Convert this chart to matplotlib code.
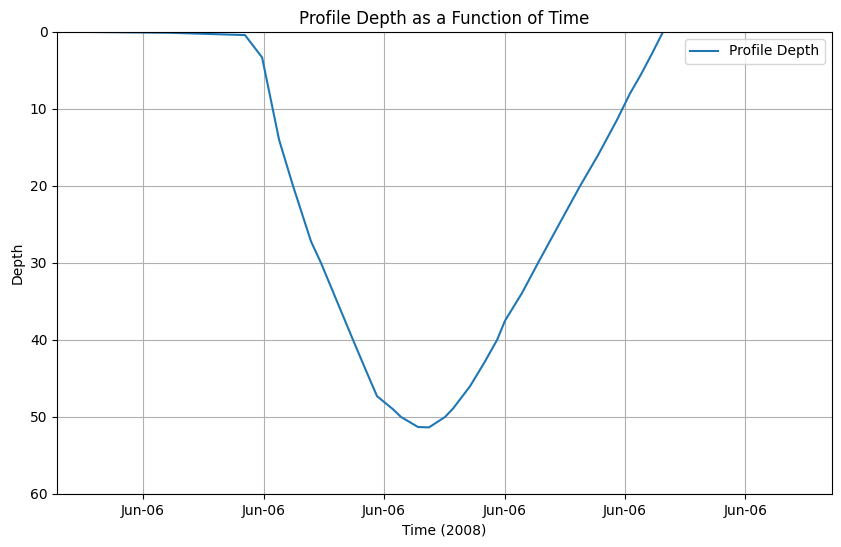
import datetime as dt
import matplotlib
matplotlib.use("Agg")
import matplotlib.pyplot as plt
import matplotlib.dates as mdates

# minutes after 12:00 on 2008-06-06, and profile depth
minutes = [-4.15, 2.24, 8.46, 9.88, 11.29, 12.45, 13.94, 14.77, 16.10, 17.43,
           18.51, 19.42, 20.75, 21.41, 22.82, 23.73, 25.06, 25.73, 27.14, 28.30,
           29.38, 30.04, 31.45, 32.78, 34.52, 36.27, 37.76, 39.34, 40.41, 41.33,
           42.24, 43.15, 43.57]
depth = [0.0, 0.1, 0.4, 3.3, 14.0, 20.0, 27.2, 30.0, 35.0, 40.0,
         44.0, 47.3, 49.0, 50.0, 51.3, 51.35, 50.0, 48.9, 46.0, 43.0,
         40.0, 37.5, 33.9, 30.0, 25.0, 20.0, 16.0, 11.4, 8.0, 5.5,
         2.8, 0.0, -1.0]

t0 = dt.datetime(2008, 6, 6, 12, 0)
times = [t0 + dt.timedelta(minutes=m) for m in minutes]

fig = plt.figure(figsize=(8.41, 5.47), dpi=100)
ax = fig.add_axes([0.0681, 0.0969, 0.9212, 0.8446])
ax.plot(times, depth, color="#1f77b4", label="Profile Depth")

ax.set_xlim(t0 + dt.timedelta(minutes=-7.12), t0 + dt.timedelta(minutes=57.18))
ax.set_ylim(60, 0)
ax.xaxis.set_major_locator(mdates.MinuteLocator(byminute=range(0, 60, 10)))
ax.xaxis.set_major_formatter(mdates.DateFormatter("%b-%d"))
ax.grid(True)
ax.set_title("Profile Depth as a Function of Time")
ax.set_xlabel("Time (2008)")
ax.set_ylabel("Depth")
ax.legend(loc="upper right")

fig.savefig("out.png", dpi=100)
